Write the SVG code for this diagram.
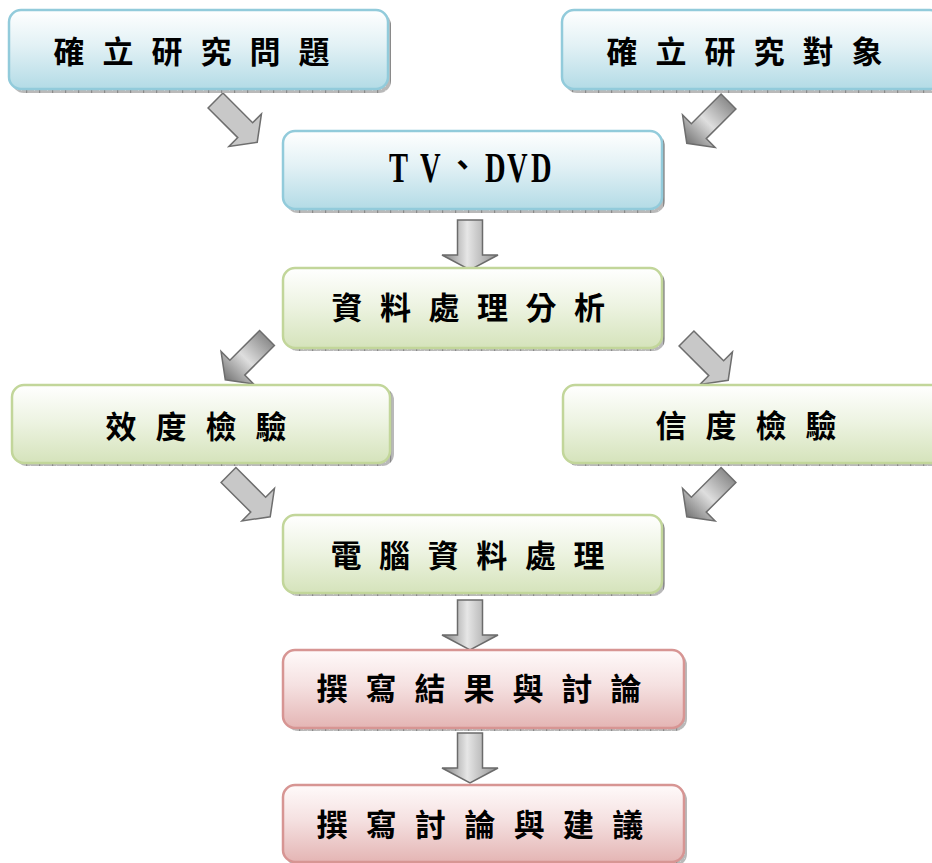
<svg xmlns="http://www.w3.org/2000/svg" width="932" height="863" viewBox="0 0 932 863">
<defs>
  <linearGradient id="gBlue" x1="0" y1="0" x2="0" y2="1">
    <stop offset="0" stop-color="#ffffff"/>
    <stop offset="0.45" stop-color="#e2f1f5"/>
    <stop offset="1" stop-color="#b3dbe6"/>
  </linearGradient>
  <linearGradient id="gGreen" x1="0" y1="0" x2="0" y2="1">
    <stop offset="0" stop-color="#ffffff"/>
    <stop offset="0.45" stop-color="#eef4e3"/>
    <stop offset="1" stop-color="#d5e3bb"/>
  </linearGradient>
  <linearGradient id="gRed" x1="0" y1="0" x2="0" y2="1">
    <stop offset="0" stop-color="#fffafa"/>
    <stop offset="0.45" stop-color="#f5e1e1"/>
    <stop offset="1" stop-color="#e4b5b4"/>
  </linearGradient>
  <linearGradient id="gArrV" x1="0" y1="0" x2="1" y2="0">
    <stop offset="0" stop-color="#7d7d7d"/>
    <stop offset="0.45" stop-color="#e6e6e6"/>
    <stop offset="1" stop-color="#8f8f8f"/>
  </linearGradient>
  <linearGradient id="gArrD" x1="0" y1="0" x2="1" y2="0">
    <stop offset="0" stop-color="#8c8c8c"/>
    <stop offset="0.5" stop-color="#dedede"/>
    <stop offset="1" stop-color="#767676"/>
  </linearGradient>
  <pattern id="pShadow" width="13" height="4" patternUnits="userSpaceOnUse">
    <rect width="13" height="4" fill="#b9b9b9"/>
    <rect x="0" y="0" width="1.2" height="4" fill="#8a8a8a"/>
    <rect x="4" y="1" width="1" height="1" fill="#d0d0d0"/>
    <rect x="8" y="2" width="1" height="1" fill="#d0d0d0"/>
  </pattern>
  <polygon id="arrD" points="0,-10.5 42,-10.5 42,-23 59,0 42,23 42,10.5 0,10.5"/>
  <polygon id="arrV" points="-12.5,0 12.5,0 12.5,35 28,35 0,50 -28,35 -12.5,35"/>
</defs>
<style>
  .shadow { fill: url(#pShadow); }
  .blue { fill: url(#gBlue); stroke: #92cbdb; stroke-width: 2.5; }
  .green { fill: url(#gGreen); stroke: #c2d69a; stroke-width: 2.5; }
  .red { fill: url(#gRed); stroke: #d79593; stroke-width: 2.5; }
  .lbl { font-family: "Noto Sans CJK TC", "Noto Sans CJK SC", sans-serif; font-weight: bold; font-size: 31px; fill: #000; }
  .lat { font-family: "Liberation Serif", serif; font-weight: bold; font-size: 42px; fill: #000; }
  .ad { stroke: #6e6e6e; stroke-width: 1.5; stroke-linejoin: miter; }
  .adl { fill: #c8c8c8; }
  .adg { fill: url(#gArrD); }
  .av { fill: url(#gArrV); stroke: #6b6b6b; stroke-width: 1.5; }
</style>

<g id="connectors">
  <use href="#arrD" class="ad adl" transform="translate(215.5,100.5) rotate(45)"/>
  <use href="#arrD" class="ad adg" transform="translate(728.5,101.5) rotate(135)"/>
  <use href="#arrV" class="av" transform="translate(470,220)"/>
  <use href="#arrD" class="ad adg" transform="translate(267,338) rotate(135)"/>
  <use href="#arrD" class="ad adl" transform="translate(686.5,338.5) rotate(45)"/>
  <use href="#arrD" class="ad adl" transform="translate(228.5,475) rotate(45)"/>
  <use href="#arrD" class="ad adg" transform="translate(728.5,475) rotate(135)"/>
  <use href="#arrV" class="av" transform="translate(470,600)"/>
  <use href="#arrV" class="av" transform="translate(470,733)"/>
</g>

<g id="n1">
  <rect class="shadow" x="12" y="13" width="379" height="80" rx="12"/>
  <rect class="blue" x="9" y="10" width="379" height="79" rx="12"/>
  <text class="lbl" y="62.5" x="53.5 102.5 151.5 200.5 249.5 298.5">確立研究問題</text>
</g>

<g id="n2">
  <rect class="shadow" x="565" y="13" width="380" height="80" rx="12"/>
  <rect class="blue" x="562" y="10" width="380" height="79" rx="12"/>
  <text class="lbl" y="62.5" x="606.5 655.5 704.5 753.5 802.5 851.5">確立研究對象</text>
</g>

<g id="n3">
  <rect class="shadow" x="286" y="134" width="379" height="79" rx="12"/>
  <rect class="blue" x="283" y="131" width="379" height="78" rx="12"/>
  <text class="lat" transform="scale(0.68,1)" y="182" x="572 617.6">TV</text>
  <text class="lbl" x="447" y="176">、</text>
  <text class="lat" transform="scale(0.68,1)" y="182" x="713.2 745.6 780.9">DVD</text>
</g>

<g id="n4">
  <rect class="shadow" x="286" y="271" width="379" height="80" rx="12"/>
  <rect class="green" x="283" y="268" width="379" height="80" rx="12"/>
  <text class="lbl" y="318.5" x="331.5 380 428.5 477 525.5 574">資料處理分析</text>
</g>

<g id="n5">
  <rect class="shadow" x="15" y="388" width="379" height="78" rx="12"/>
  <rect class="green" x="12" y="385" width="378" height="78" rx="12"/>
  <text class="lbl" y="437.5" x="105.5 155.5 205.5 255.5">效度檢驗</text>
</g>

<g id="n6">
  <rect class="shadow" x="566" y="388" width="380" height="78" rx="12"/>
  <rect class="green" x="563" y="385" width="380" height="78" rx="12"/>
  <text class="lbl" y="436.5" x="655.5 705.5 755.5 805.5">信度檢驗</text>
</g>

<g id="n7">
  <rect class="shadow" x="286" y="518" width="379" height="78" rx="12"/>
  <rect class="green" x="283" y="515" width="379" height="78" rx="12"/>
  <text class="lbl" y="566.5" x="330.5 379.1 427.7 476.3 524.9 573.5">電腦資料處理</text>
</g>

<g id="n8">
  <rect class="shadow" x="286" y="653" width="401" height="78" rx="12"/>
  <rect class="red" x="283" y="650" width="401" height="78" rx="12"/>
  <text class="lbl" y="699.5" x="316.5 365.5 414.5 463.5 512.5 561.5 610.5">撰寫結果與討論</text>
</g>

<g id="n9">
  <rect class="shadow" x="286" y="788" width="401" height="78" rx="12"/>
  <rect class="red" x="283" y="785" width="401" height="77" rx="12"/>
  <text class="lbl" y="835.5" x="316.5 365.8 415.1 464.4 513.7 563 612.3">撰寫討論與建議</text>
</g>
</svg>
